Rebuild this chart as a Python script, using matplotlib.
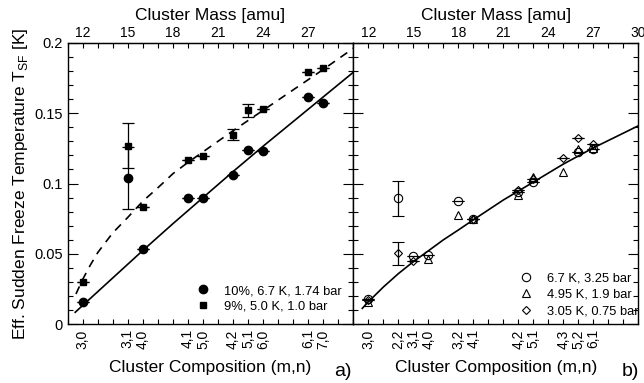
import matplotlib
matplotlib.use("Agg")
import matplotlib.pyplot as plt
from matplotlib.ticker import MultipleLocator

plt.rcParams['font.family'] = ['Liberation Sans', 'DejaVu Sans']
plt.rcParams['mathtext.fontset'] = 'custom'
plt.rcParams['mathtext.rm'] = 'Liberation Sans'

# ---- panel a) data ----
mass_a = [12, 15, 16, 19, 20, 22, 23, 24, 27, 28]
circ_a = [0.0157, 0.104, 0.0533, 0.090, 0.090, 0.106, 0.124, 0.1234, 0.1617, 0.1575]
circ_a_err = [0, 0.022, 0, 0, 0, 0, 0, 0, 0, 0]
sq_a = [0.0303, 0.127, 0.0832, 0.1165, 0.1198, 0.1347, 0.152, 0.1528, 0.179, 0.1823]
sq_a_err = [0, 0.016, 0, 0, 0, 0.004, 0.0045, 0, 0, 0]

fit_solid_a_x = [11.5, 12, 14, 16, 18, 20, 22, 24, 26, 28, 30]
fit_solid_a_y = [0.0086, 0.0135, 0.033, 0.0525, 0.0715, 0.090, 0.1085, 0.1265, 0.144, 0.1615, 0.179]
fit_dash_a_x = [11.55, 12, 12.5, 13, 14, 15, 16, 17, 18, 19, 20, 22, 24, 26, 28, 30]
fit_dash_a_y = [0.0216, 0.032, 0.042, 0.051, 0.065, 0.076, 0.0875, 0.097, 0.107, 0.115,
                0.1225, 0.1375, 0.152, 0.1665, 0.181, 0.196]

comp_a_pos = [12, 15, 16, 19, 20, 22, 23, 24, 27, 28]
comp_a_lab = ['3,0', '3,1', '4,0', '4,1', '5,0', '4,2', '5,1', '6,0', '6,1', '7,0']

# ---- panel b) data ----
circ_b_m = [12, 14, 15, 16, 18, 19, 22, 23, 26, 27]
circ_b = [0.018, 0.0895, 0.0488, 0.049, 0.0876, 0.0748, 0.094, 0.1013, 0.1227, 0.1243]
circ_b_err = [0, 0.0125, 0, 0, 0, 0, 0, 0, 0, 0]
tri_b_m = [12, 16, 18, 19, 22, 23, 25, 26, 27]
tri_b = [0.016, 0.0462, 0.078, 0.0748, 0.092, 0.105, 0.108, 0.1246, 0.125]
dia_b_m = [12, 14, 15, 19, 22, 23, 25, 26, 27]
dia_b = [0.017, 0.0505, 0.0452, 0.0748, 0.0955, 0.103, 0.1184, 0.1326, 0.128]
dia_b_err = [0, 0.008, 0, 0, 0, 0, 0, 0, 0]

fit_b_x = [11.6, 12, 13, 14, 15, 16, 17, 18, 19, 21, 23, 25, 27, 30]
fit_b_y = [0.0114, 0.016, 0.0265, 0.036, 0.0445, 0.0522, 0.060, 0.067, 0.0742, 0.0883,
           0.101, 0.1138, 0.1253, 0.141]

comp_b_pos = [12, 14, 15, 16, 18, 19, 22, 23, 25, 26, 27]
comp_b_lab = ['3,0', '2,2', '3,1', '4,0', '3,2', '4,1', '4,2', '5,1', '4,3', '5,2', '6,1']

fig = plt.figure(figsize=(6.44, 3.83), dpi=100)
axa = fig.add_axes([0.1051, 0.153, 0.4435, 0.7355])
axb = fig.add_axes([0.5486, 0.153, 0.4425, 0.7355])

for ax in (axa, axb):
    ax.set_xlim(11, 30)
    ax.set_ylim(0, 0.2)
    ax.yaxis.set_major_locator(MultipleLocator(0.05))
    ax.yaxis.set_minor_locator(MultipleLocator(0.01))
    ax.xaxis.set_minor_locator(MultipleLocator(1))
    ax.tick_params(which='both', direction='in', left=True, right=True, bottom=True, top=False,
                   width=0.8)
    ax.tick_params(axis='y', which='major', length=7)
    ax.tick_params(axis='y', which='minor', length=3.5)
    ax.tick_params(axis='x', which='both', length=3.5, labelsize=10)
    for sp in ax.spines.values():
        sp.set_linewidth(1.0)
    sec = ax.secondary_xaxis('top')
    sec.xaxis.set_minor_locator(MultipleLocator(1))
    sec.tick_params(which='both', direction='in', length=3.5, width=0.8, labelsize=10, pad=2)
    sec.set_xlabel('Cluster Mass [amu]', fontsize=12.5, labelpad=4)
    ax.set_xlabel('Cluster Composition (m,n)', fontsize=12.5, labelpad=8)
    ax._sec = sec

axa._sec.set_xticks([12, 15, 18, 21, 24, 27])
axb._sec.set_xticks([12, 15, 18, 21, 24, 27, 30])

axa.set_xticks(comp_a_pos, comp_a_lab, rotation=90)
axb.set_xticks(comp_b_pos, comp_b_lab, rotation=90)
axa.tick_params(axis='y', labelsize=10.5)
axb.tick_params(axis='y', labelleft=False)
axa.set_yticks([0, 0.05, 0.1, 0.15, 0.2], ['0', '0.05', '0.1', '0.15', '0.2'])
axa.set_ylabel(r'Eff. Sudden Freeze Temperature T$_{\mathrm{SF}}$ [K]', fontsize=12.5, labelpad=3)

# panel a
axa.plot(fit_solid_a_x, fit_solid_a_y, '-', color='black', lw=1.2)
axa.plot(fit_dash_a_x, fit_dash_a_y, '--', color='black', lw=1.2, dashes=(5, 4))
axa.errorbar(mass_a, circ_a, yerr=circ_a_err, fmt='o', color='black', ms=6,
             capsize=4, elinewidth=0.9, capthick=0.9, label='10%, 6.7 K, 1.74 bar')
axa.errorbar(mass_a, sq_a, yerr=sq_a_err, fmt='s', color='black', ms=5,
             capsize=4, elinewidth=0.9, capthick=0.9, label='9%, 5.0 K, 1.0 bar')
h, l = axa.get_legend_handles_labels()
h = [hh[0] for hh in h]
axa.legend(h, l, loc='upper left', bbox_to_anchor=(0.451, 0.14), frameon=False, fontsize=9.3,
           handlelength=1, handletextpad=1.1, labelspacing=0.3, borderpad=0, borderaxespad=0,
           numpoints=1)

# panel b
axb.plot(fit_b_x, fit_b_y, '-', color='black', lw=1.2)
eb1 = axb.errorbar(circ_b_m, circ_b, yerr=circ_b_err, fmt='o', mfc='none', mec='black',
                   color='black', ms=6, mew=0.8, capsize=4, elinewidth=0.9, capthick=0.9)
eb2 = axb.errorbar(tri_b_m, tri_b, fmt='^', mfc='none', mec='black', ms=6, mew=0.8)
eb3 = axb.errorbar(dia_b_m, dia_b, yerr=dia_b_err, fmt='D', mfc='none', mec='black',
                   color='black', ms=4.5, mew=0.8, capsize=4, elinewidth=0.9, capthick=0.9)
axb.legend([eb1[0], eb2[0], eb3[0]], ['6.7 K, 3.25 bar', '4.95 K, 1.9 bar', '3.05 K, 0.75 bar'],
           loc='upper left', bbox_to_anchor=(0.584, 0.185), frameon=False, fontsize=9.3,
           handlelength=1, handletextpad=1.1, labelspacing=0.35, borderpad=0, borderaxespad=0,
           numpoints=1)

fig.text(343 / 644, 1 - 372 / 383, 'a)', fontsize=14, ha='center', va='center')
fig.text(630 / 644, 1 - 372 / 383, 'b)', fontsize=14, ha='center', va='center')

fig.savefig('out.png', dpi=100)
